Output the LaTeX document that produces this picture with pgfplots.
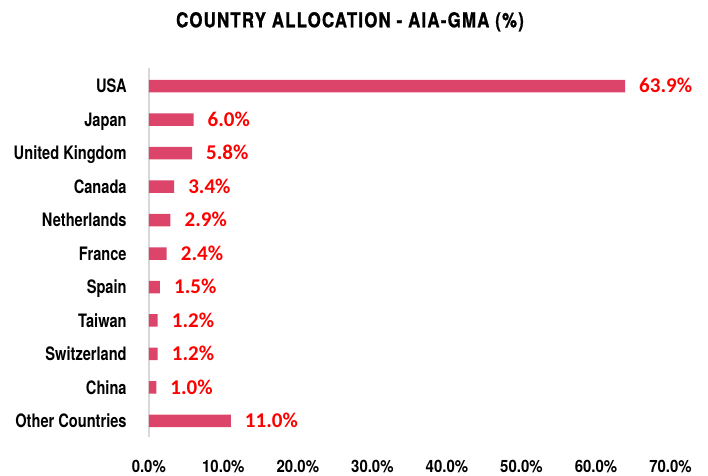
\documentclass[border=0pt]{standalone}
\usepackage{pgfplots}
\usepackage{pgfplotstable}
\pgfplotsset{compat=1.18}
\usepackage{fontspec}
\setmainfont{TeX Gyre Heros}
\newfontfamily\titlefont{TeX Gyre Heros}[FakeStretch=0.82,LetterSpace=6,FakeBold=1]
\newfontfamily\catfont{TeX Gyre Heros}[FakeStretch=0.79]
\newfontfamily\tickfont{TeX Gyre Heros}[FakeStretch=0.88]
\newfontfamily\valfont{Carlito}
\definecolor{barcol}{RGB}{220,68,106}
\definecolor{axgray}{RGB}{217,217,217}
\pgfplotstableread{
idx val
10 63.9
9 6.0
8 5.8
7 3.4
6 2.9
5 2.4
4 1.5
3 1.2
2 1.2
1 1.0
0 11.0
}\datatable
\begin{document}
\begin{tikzpicture}[x=1pt,y=1pt]
\useasboundingbox (0,0) rectangle (708,475);
\node[anchor=base, inner sep=0pt, font=\fontsize{20.5}{21}\selectfont\titlefont\bfseries] at (350,447.7) {COUNTRY ALLOCATION - AIA-GMA (\%)};
\begin{axis}[
  at={(148.8pt,38.3pt)}, anchor=south west,
  scale only axis, width=521.7pt, height=368.4pt,
  xmin=0, xmax=70, ymin=-0.47, ymax=10.53,
  xbar, bar width=12.5pt, bar shift=0pt,
  axis x line*=bottom, axis y line*=left,
  x axis line style={draw=none},
  y axis line style={draw=axgray, line width=1.5pt},
  major tick length=0pt,
  /pgf/number format/assume math mode=true,
  xtick={0,10,20,30,40,50,60,70},
  xticklabels={0.0\%,10.0\%,20.0\%,30.0\%,40.0\%,50.0\%,60.0\%,70.0\%},
  xticklabel style={anchor=base, inner sep=0pt, font=\fontsize{17}{17}\selectfont\tickfont\bfseries},
  xticklabel shift=35.3pt,
  ytick={0,1,2,3,4,5,6,7,8,9,10},
  yticklabels={Other Countries,China,Switzerland,Taiwan,Spain,France,Netherlands,Canada,United Kingdom,Japan,USA},
  yticklabel style={anchor=base east, inner sep=0pt, yshift=-6.6pt, font=\fontsize{18.5}{18.5}\selectfont\catfont\bfseries},
  yticklabel shift=22pt,
  point meta=x,
  nodes near coords={\pgfmathprintnumber[fixed,zerofill,precision=1]{\pgfplotspointmeta}\%},
  nodes near coords style={anchor=base west, inner sep=0pt, xshift=14pt, yshift=-6.7pt, text=red, font=\fontsize{21}{21}\selectfont\valfont\bfseries},
  clip=false,
]
\addplot[fill=barcol, draw=none] table[x=val, y=idx] {\datatable};
\end{axis}
\end{tikzpicture}
\end{document}
